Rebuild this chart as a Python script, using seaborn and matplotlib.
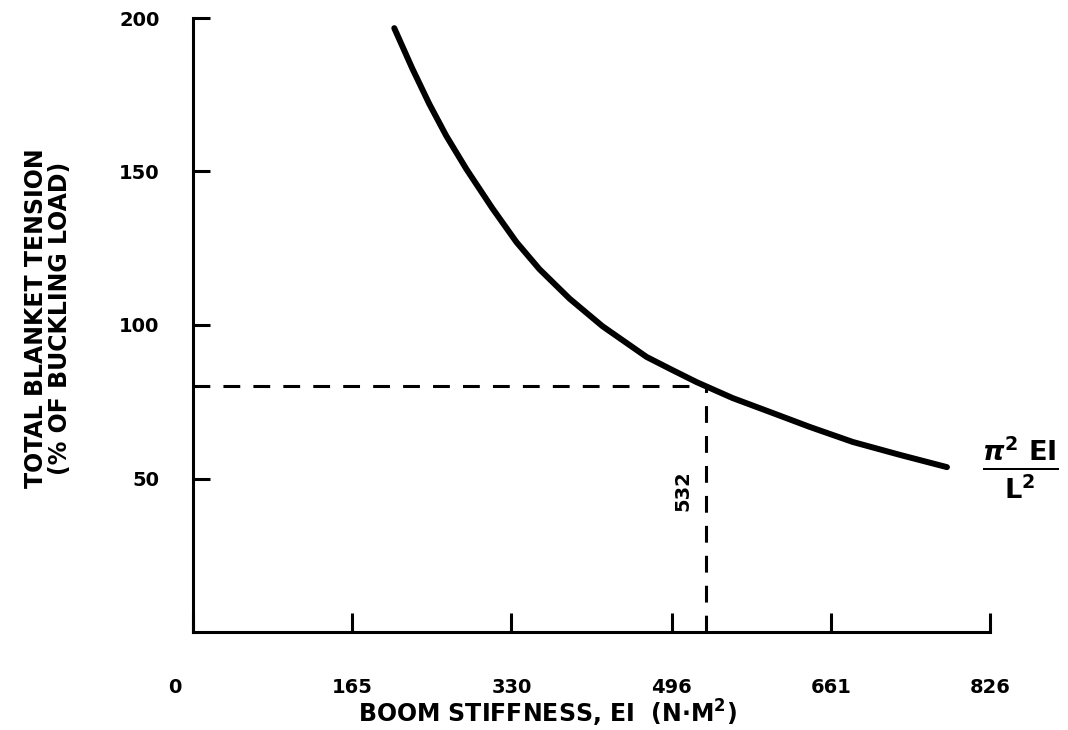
import matplotlib
matplotlib.use("Agg")
import matplotlib.pyplot as plt
import matplotlib.transforms as mtransforms
import seaborn as sns
import pandas as pd

# Boom stiffness EI (N*m^2) vs. total blanket tension (% of buckling load)
stiffness = [208.6, 227.2, 244.9, 262.5, 283.3, 310.3, 335.2, 359.0, 390.2, 424.4,
             470.1, 497.0, 521.9, 559.3, 597.7, 639.2, 683.8, 732.6, 781.4]
tension = [196.7, 183.6, 172.0, 161.6, 150.8, 138.0, 127.0, 118.2, 108.6, 99.6,
           89.6, 85.3, 81.4, 76.2, 71.7, 66.8, 61.9, 57.7, 53.7]

# design point marked by the dashed guide lines
design_ei = 532
design_tension = 80

x_ticks = [0, 165, 330, 496, 661, 826]
x_tick_labels = ["0", "165", "330", "496", "661", "826"]
y_ticks = [50, 100, 150, 200]
y_tick_labels = ["50", "100", "150", "200"]

sns.set_style("white")
plt.rcParams["font.family"] = ["DejaVu Sans"]
plt.rcParams["font.weight"] = "bold"
plt.rcParams["text.color"] = "black"
plt.rcParams["axes.labelcolor"] = "black"

df = pd.DataFrame({"ei": stiffness, "tension": tension})

fig = plt.figure(figsize=(10.68, 7.30), dpi=100)
ax = fig.add_axes([193 / 1068, 1 - 632 / 730, (990 - 193) / 1068, (632 - 18) / 730])

sns.lineplot(data=df, x="ei", y="tension", ax=ax, color="black", linewidth=4.3,
             solid_capstyle="round", solid_joinstyle="round", sort=False)

# dashed guides to the design point
guide = dict(color="black", linewidth=2.2, dashes=(5.5, 4.3), dash_capstyle="butt")
ax.plot([0, design_ei], [design_tension, design_tension], **guide)
ax.plot([design_ei, design_ei], [0, design_tension], **guide)
ax.text(design_ei - 24, 46, str(design_ei), rotation=90, ha="center", va="center",
        fontsize=14, fontweight="bold")

# buckling load expression at the end of the curve
ax.text(858, 53.5, r"$\frac{\pi^{2}\ \mathbf{EI}}{\mathbf{L}^{2}}$", fontsize=28,
        ha="center", va="center", clip_on=False)

ax.set_xlim(0, 826)
ax.set_ylim(0, 200)
ax.set_xticks(x_ticks)
ax.set_xticklabels(x_tick_labels, fontsize=14, fontweight="bold")
ax.set_yticks(y_ticks)
ax.set_yticklabels(y_tick_labels, fontsize=14, fontweight="bold")

ax.tick_params(axis="x", bottom=True, direction="in", length=14, width=2.2, pad=33,
               colors="black")
ax.tick_params(axis="y", left=True, direction="in", length=12, width=2.2, pad=24,
               colors="black")

# the origin label sits a little left of the corner
zero_label = ax.get_xticklabels()[0]
zero_label.set_transform(zero_label.get_transform()
                         + mtransforms.ScaledTranslation(-0.18, 0, fig.dpi_scale_trans))

for side in ("top", "right"):
    ax.spines[side].set_visible(False)
for side in ("left", "bottom"):
    ax.spines[side].set_linewidth(2.2)
    ax.spines[side].set_color("black")

ax.set_xlabel(r"BOOM STIFFNESS, EI  (N$\cdot$M$^{2}$)", fontsize=17, fontweight="bold",
              va="center")
ax.xaxis.set_label_coords(0.445, -0.132)
ax.set_ylabel("TOTAL BLANKET TENSION\n(% OF BUCKLING LOAD)", fontsize=17,
              fontweight="bold", linespacing=1.0, va="center")
ax.yaxis.set_label_coords(-0.182, 0.511)

fig.savefig("out.png", dpi=100, facecolor="white")
